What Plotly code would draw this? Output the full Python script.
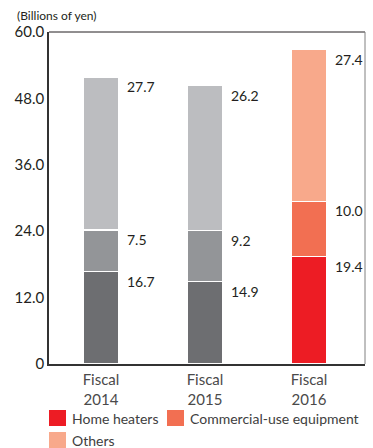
import plotly.graph_objects as go

# Sales by product line, billions of yen
years = ["Fiscal 2014", "Fiscal 2015", "Fiscal 2016"]
tick_text = ["Fiscal<br>2014", "Fiscal<br>2015", "Fiscal<br>2016"]
home_heaters = [16.7, 14.9, 19.4]
commercial_use = [7.5, 9.2, 10.0]
others = [27.7, 26.2, 27.4]

series = [
    ("Home heaters", home_heaters, ["#6d6e71", "#6d6e71", "#ed1c24"]),
    ("Commercial-use equipment", commercial_use, ["#939598", "#939598", "#f26f52"]),
    ("Others", others, ["#bcbdc0", "#bcbdc0", "#f8a98b"]),
]

W, H = 373, 448
L, R, T, B = 49, 8, 32, 84
PW, PH = W - L - R, H - T - B

FONT = "Lato"
TXT = "#231f20"

def px_x(p):
    return (p - L) / PW

def px_y(p):
    return (H - B - p) / PH

fig = go.Figure()
for name, vals, cols in series:
    fig.add_trace(go.Bar(
        x=years, y=vals, name=name,
        marker=dict(color=cols, line=dict(color="white", width=1.5)),
        showlegend=False,
    ))

# value labels to the right of each segment, aligned to its top
annotations = []
base = [0.0] * len(years)
for name, vals, cols in series:
    for i, v in enumerate(vals):
        top = base[i] + v
        annotations.append(dict(
            x=years[i], y=top, xref="x", yref="y",
            text=f"{v:.1f}", showarrow=False,
            xanchor="left", yanchor="top", xshift=24, yshift=1,
            font=dict(family=FONT, size=14, color=TXT),
        ))
        base[i] = top

# unit label
annotations.append(dict(
    x=px_x(15), y=px_y(15), xref="paper", yref="paper",
    text="(Billions of yen)", showarrow=False,
    xanchor="left", yanchor="middle",
    font=dict(family=FONT, size=12, color=TXT),
))

shapes = [
    # top and right frame lines
    dict(type="line", xref="paper", yref="paper", x0=0, x1=1, y0=1, y1=1,
         line=dict(color="#231f20", width=1)),
    dict(type="line", xref="paper", yref="paper", x0=1, x1=1, y0=0, y1=1,
         line=dict(color="#808080", width=1)),
]

# legend drawn below the axis
legend_items = [
    ("Home heaters", "#ed1c24", 49, 418),
    ("Commercial-use equipment", "#f26f52", 167, 418),
    ("Others", "#f8a98b", 49, 440),
]
for label, col, lx, ly in legend_items:
    shapes.append(dict(
        type="rect", xref="paper", yref="paper",
        x0=px_x(lx), x1=px_x(lx + 17), y0=px_y(ly - 8), y1=px_y(ly + 8),
        fillcolor=col, line=dict(width=0),
    ))
    annotations.append(dict(
        x=px_x(lx + 21), y=px_y(ly), xref="paper", yref="paper",
        text=label, showarrow=False, xanchor="left", yanchor="middle",
        font=dict(family=FONT, size=14, color="#404040"),
    ))

fig.update_layout(
    width=W, height=H,
    margin=dict(l=L, r=R, t=T, b=B, pad=0),
    barmode="stack", bargap=0.655,
    plot_bgcolor="white", paper_bgcolor="white",
    font=dict(family=FONT, color=TXT),
    annotations=annotations, shapes=shapes,
    showlegend=False,
)
fig.update_xaxes(
    tickvals=years, ticktext=tick_text,
    showline=True, linecolor="#333333", linewidth=2,
    showgrid=False, ticks="", ticklabelstandoff=1,
    tickfont=dict(family=FONT, size=15, color="#4a4a4a"),
)
fig.update_yaxes(
    range=[0, 60], tickvals=[0, 12, 24, 36, 48, 60],
    ticktext=["0", "12.0", "24.0", "36.0", "48.0", "60.0"],
    showline=True, linecolor="#333333", linewidth=1.5,
    showgrid=False, zeroline=False, ticks="",
    tickfont=dict(family=FONT, size=15, color=TXT),
)

fig.write_html("out.html")
